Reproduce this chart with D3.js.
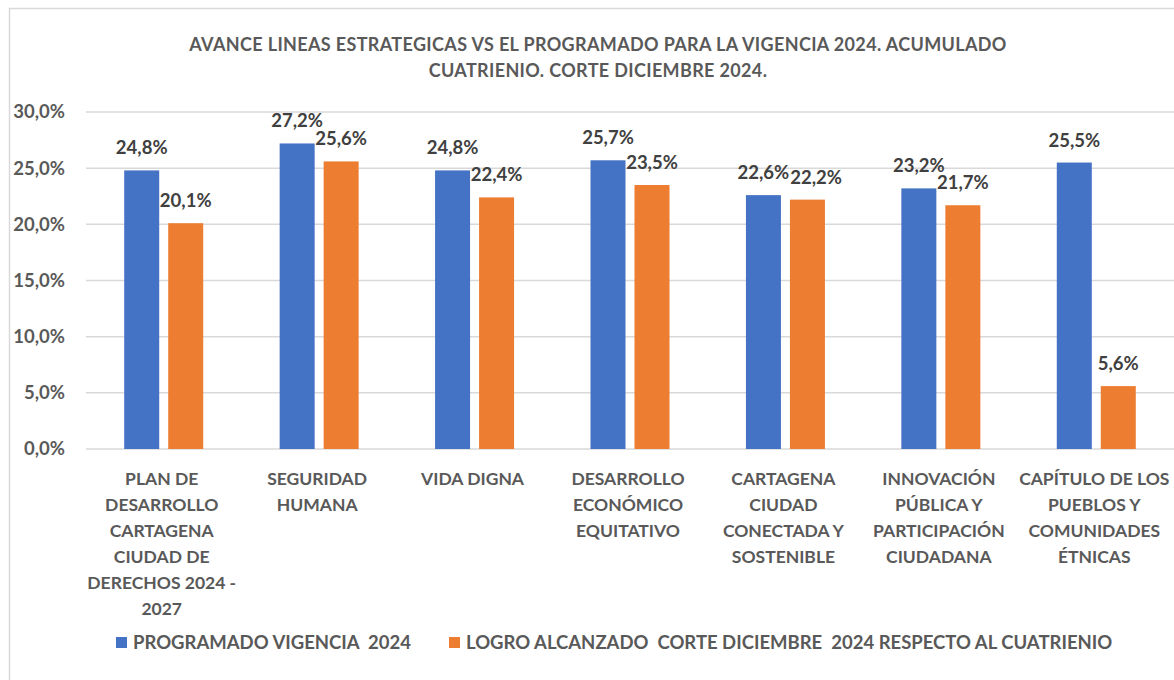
<!DOCTYPE html>
<html>
<head>
<meta charset="utf-8">
<script src="https://cdn.jsdelivr.net/npm/d3@7"></script>
<style>
  body { margin: 0; background: #fff; }
  svg text { font-family: Lato, "Open Sans", sans-serif; font-weight: 700; }
</style>
</head>
<body>
<svg id="chart" width="1174" height="680"></svg>
<script>
const categories = [
  ['PLAN DE', 'DESARROLLO', 'CARTAGENA', 'CIUDAD DE', 'DERECHOS 2024 -', '2027'],
  ['SEGURIDAD', 'HUMANA'],
  ['VIDA DIGNA'],
  ['DESARROLLO', 'ECONÓMICO', 'EQUITATIVO'],
  ['CARTAGENA', 'CIUDAD', 'CONECTADA Y', 'SOSTENIBLE'],
  ['INNOVACIÓN', 'PÚBLICA Y', 'PARTICIPACIÓN', 'CIUDADANA'],
  ['CAPÍTULO DE LOS', 'PUEBLOS Y', 'COMUNIDADES', 'ÉTNICAS']
];
const programado = [24.8, 27.2, 24.8, 25.7, 22.6, 23.2, 25.5];
const logro = [20.1, 25.6, 22.4, 23.5, 22.2, 21.7, 5.6];
const yTicks = [0, 5, 10, 15, 20, 25, 30];
const seriesNames = ['PROGRAMADO VIGENCIA  2024', 'LOGRO ALCANZADO  CORTE DICIEMBRE  2024 RESPECTO AL CUATRIENIO'];
const colours = ['#4472c4', '#ed7d31'];
const titleLines = ['AVANCE LINEAS ESTRATEGICAS VS EL PROGRAMADO PARA LA VIGENCIA 2024. ACUMULADO', 'CUATRIENIO. CORTE DICIEMBRE 2024.'];

const svg = d3.select('#chart');
const fmt = v => d3.format('.1f')(v).replace('.', ',') + '%';

// chart frame
svg.append('rect')
  .attr('x', 9.5).attr('y', 8.5)
  .attr('width', 1180).attr('height', 700)
  .attr('fill', '#fff').attr('stroke', '#d9d9d9').attr('stroke-width', 1.5);

const plot = { left: 86, right: 1174, top: 112, bottom: 449 };

const x = d3.scaleBand()
  .domain(d3.range(categories.length))
  .range([plot.left, plot.right]);

const y = d3.scaleLinear().domain([0, 30]).range([plot.bottom, plot.top]);

const barW = 35;
const barGap = 9;

// gridlines
svg.append('g')
  .selectAll('line')
  .data(yTicks)
  .join('line')
  .attr('x1', plot.left).attr('x2', 1174)
  .attr('y1', d => y(d)).attr('y2', d => y(d))
  .attr('stroke', '#d9d9d9').attr('stroke-width', 1.5);

// y labels
svg.append('g')
  .selectAll('text')
  .data(yTicks)
  .join('text')
  .attr('x', 65).attr('y', d => y(d))
  .attr('dy', '0.35em')
  .attr('text-anchor', 'end')
  .attr('font-size', 18.5)
  .attr('fill', '#595959')
  .text(d => fmt(d));

const series = [programado, logro];
const labelSel = [];
series.forEach((vals, s) => {
  const off = s === 0 ? -(barW + barGap / 2) : barGap / 2;
  const g = svg.append('g');
  g.selectAll('rect')
    .data(vals)
    .join('rect')
    .attr('x', (d, i) => x(i) + x.bandwidth() / 2 + off)
    .attr('y', d => y(d))
    .attr('width', barW)
    .attr('height', d => y(0) - y(d))
    .attr('fill', colours[s]);
  labelSel.push(g.selectAll('text')
    .data(vals)
    .join('text')
    .attr('x', (d, i) => x(i) + x.bandwidth() / 2 + off + barW / 2)
    .attr('y', d => y(d) - 16)
    .attr('text-anchor', 'middle')
    .attr('font-size', 18.5)
    .attr('fill', '#404040')
    .text(d => fmt(d)));
});

// push orange labels right when they collide with the blue ones (like Excel does)
const blueNodes = labelSel[0].nodes();
labelSel[1].each(function (d, i) {
  const a = blueNodes[i].getBBox();
  const b = this.getBBox();
  const vOverlap = a.y < b.y + b.height - 6 && b.y < a.y + a.height - 6;
  if (vOverlap && b.x < a.x + a.width + 1) {
    const shift = a.x + a.width + 1 - b.x;
    d3.select(this).attr('x', +d3.select(this).attr('x') + shift);
  }
});

// category labels
const xl = svg.append('g')
  .selectAll('text')
  .data(categories)
  .join('text')
  .attr('text-anchor', 'middle')
  .attr('font-size', 17.5)
  .attr('fill', '#595959');
xl.each(function (lines, i) {
  d3.select(this).selectAll('tspan')
    .data(lines)
    .join('tspan')
    .attr('x', x(i) + x.bandwidth() / 2 - 2)
    .attr('y', (d, j) => 484.5 + j * 26)
    .text(d => d);
});

// title
svg.append('text')
  .attr('text-anchor', 'middle')
  .attr('font-size', 18)
  .attr('letter-spacing', 0.35)
  .attr('fill', '#595959')
  .selectAll('tspan')
  .data(titleLines)
  .join('tspan')
  .attr('x', 598)
  .attr('y', (d, i) => 50.5 + i * 26)
  .text(d => d);

// legend
const legendX = [116, 449];
const lg = svg.append('g')
  .selectAll('g')
  .data(seriesNames)
  .join('g')
  .attr('transform', (d, i) => `translate(${legendX[i]},643)`);
lg.append('rect')
  .attr('x', 0).attr('y', -6)
  .attr('width', 11).attr('height', 11)
  .attr('fill', (d, i) => colours[i]);
lg.append('text')
  .attr('x', 17).attr('y', 0)
  .attr('dy', '0.35em')
  .attr('font-size', 18.5)
  .attr('fill', '#595959')
  .style('white-space', 'pre')
  .text(d => d);
</script>
</body>
</html>
